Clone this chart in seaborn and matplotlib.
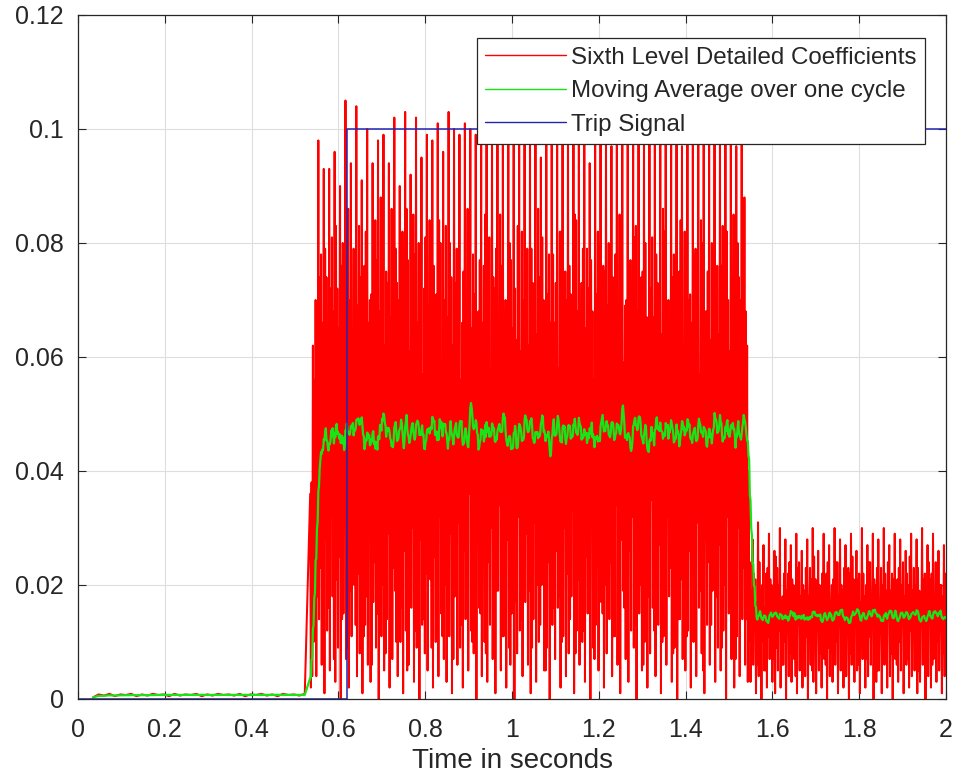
import numpy as np
import pandas as pd
import matplotlib
matplotlib.use("Agg")
import matplotlib.pyplot as plt
from matplotlib.ticker import FuncFormatter
import seaborn as sns

sns.set_theme(style="whitegrid")
plt.rcParams['font.family'] = ['Liberation Sans', 'DejaVu Sans']

### TIMES (seconds)
signal_start = 0.035
fault_start = 0.535
fault_clear = 1.548
t_end = 2.0
trip_time = 0.62
trip_level = 0.1

### SIXTH LEVEL DETAIL COEFFICIENTS
# ripple before the fault, units of 1e-4
prefault_vals = [3, 8, 6, 9, 5, 8, 7, 9, 5, 8, 6, 9, 7, 8, 5, 9, 6, 8, 7, 9,
                 5, 8, 6, 9, 7, 8, 6, 9, 5, 8, 7, 9, 6, 8, 5, 9, 7, 8, 6, 9]

# during the fault, units of 1e-3
# each cycle: spike top, dip, smaller hump, second dip
fault_peaks = [36, 62, 70, 98, 78, 93, 74, 93, 81, 96,
               72, 90, 80, 105, 86, 94, 79, 104, 83, 91,
               76, 100, 70, 94, 84, 98, 88, 99, 75, 94,
               86, 102, 73, 90, 82, 103, 77, 92, 85, 102,
               80, 95, 72, 99, 84, 98, 69, 101, 80, 96,
               83, 103, 74, 100, 79, 99, 66, 101, 86, 100,
               78, 99, 68, 100, 76, 99, 81, 100, 72, 99,
               85, 100, 70, 98, 77, 100, 63, 99, 82, 100,
               79, 99, 73, 100, 86, 95, 70, 99, 78, 100,
               66, 100, 82, 98, 75, 100, 71, 99, 84, 100,
               73, 99, 79, 94, 68, 100, 82, 99, 76, 100,
               80, 97, 72, 100, 85, 99, 69, 98, 77, 100,
               83, 99, 74, 100, 67, 98, 81, 100, 73, 99,
               86, 100, 70, 99, 78, 100, 75, 97, 82, 99,
               71, 100, 79, 98, 84, 100, 68, 99, 80, 98,
               76, 100, 83, 99, 70, 100, 85, 97, 74, 99,
               88, 62]
fault_dips = [2, 10, 4, 14, 6, 1, 12, 5, 18, 3,
              9, 0, 15, 7, 2, 11, 20, 4, 8, 1,
              13, 6, 3, 17, 9, 0, 11, 5, 14, 2,
              7, 19, 4, 10, 1, 12, 6, 16, 3, 9,
              0, 13, 8, 5, 21, 2, 10, 4, 15, 7,
              3, 11, 1, 18, 6, 9, 2, 14, 5, 12,
              8, 0, 16, 4, 10, 3, 13, 7, 1, 19,
              5, 11, 2, 9, 15, 0, 8, 12, 4, 17,
              6, 1, 14, 3, 10, 20, 5, 9, 0, 13,
              7, 16, 2, 11, 4, 8, 18, 1, 12, 6,
              10, 3, 15, 0, 9, 13, 5, 17, 2, 8,
              14, 4, 11, 6, 1, 19, 7, 3, 12, 9,
              0, 15, 5, 10, 2, 8, 16, 4, 13, 1,
              11, 6, 18, 3, 9, 0, 14, 7, 5, 12,
              2, 10, 4, 16, 8, 1, 13, 6, 19, 3,
              9, 5, 12, 0, 15, 7, 2, 11, 4, 14,
              6, 3]
fault_mids = [38, 56, 63, 74, 66, 79, 60, 72, 68, 83,
              65, 76, 57, 81, 70, 63, 78, 69, 74, 60,
              82, 66, 71, 55, 77, 68, 80, 62, 73, 67,
              58, 79, 70, 75, 64, 86, 61, 72, 78, 66,
              74, 57, 81, 69, 63, 76, 71, 84, 59, 70,
              67, 80, 62, 73, 78, 56, 75, 68, 82, 65,
              71, 60, 77, 66, 85, 69, 58, 74, 79, 63,
              76, 68, 55, 80, 65, 72, 83, 61, 70, 77,
              62, 79, 69, 64, 74, 81, 57, 71, 66, 78,
              73, 58, 82, 67, 70, 76, 63, 85, 68, 60,
              79, 65, 72, 77, 56, 71, 80, 64, 75, 69,
              61, 74, 78, 66, 83, 59, 70, 76, 65, 81,
              68, 63, 75, 80, 58, 72, 67, 78, 71, 64,
              82, 69, 60, 74, 77, 65, 84, 62, 73, 70,
              66, 78, 71, 57, 80, 68, 75, 63, 79, 72,
              64, 76, 69, 82, 61, 74, 67, 80, 70, 77,
              68, 40]
fault_dips2 = [4, 12, 18, 23, 10, 28, 16, 32, 7, 21,
               25, 14, 30, 9, 19, 34, 13, 22, 27, 11,
               18, 31, 6, 24, 15, 36, 20, 8, 29, 17,
               23, 10, 33, 16, 26, 5, 21, 30, 12, 19,
               28, 14, 22, 35, 9, 25, 17, 32, 11, 20,
               16, 29, 7, 23, 31, 13, 26, 18, 36, 10,
               21, 33, 15, 27, 8, 24, 30, 12, 19, 34,
               11, 22, 28, 6, 25, 17, 32, 14, 23, 29,
               19, 9, 31, 20, 13, 27, 5, 24, 35, 16,
               26, 18, 10, 30, 22, 14, 33, 8, 21, 28,
               12, 25, 17, 36, 7, 23, 29, 15, 20, 31,
               24, 11, 34, 19, 28, 16, 9, 26, 32, 13,
               30, 20, 6, 25, 18, 35, 12, 22, 27, 10,
               17, 32, 23, 8, 29, 14, 21, 34, 11, 26,
               22, 15, 31, 19, 5, 28, 24, 13, 33, 18,
               27, 9, 20, 32, 16, 25, 7, 30, 19, 23,
               14, 10]

# after the fault is cleared, units of 1e-3
post_peaks = [24, 28, 21, 31, 19, 27, 22, 29, 20, 26,
              23, 30, 18, 28, 22, 27, 20, 29, 24, 26,
              19, 28, 23, 30, 21, 26, 18, 29, 22, 27,
              20, 30, 24, 28, 19, 27, 23, 29, 21, 26,
              22, 30, 18, 27, 24, 29, 20, 28, 23, 30,
              19, 27, 22, 29, 21, 28, 24, 26, 20, 29,
              23, 28, 19, 30, 22, 27, 21, 29, 24, 26,
              20, 27]
post_dips = [3, 6, 1, 4, 0, 5, 2, 7, 3, 1,
             5, 2, 6, 0, 4, 3, 7, 1, 5, 2,
             4, 0, 6, 3, 1, 5, 2, 7, 0, 4,
             3, 6, 1, 5, 2, 4, 0, 6, 3, 5,
             1, 7, 2, 4, 6, 0, 3, 5, 1, 6,
             2, 4, 0, 7, 3, 5, 1, 6, 2, 4,
             5, 1, 3, 6, 0, 4, 2, 7, 3, 5,
             1, 4]
post_mids = [19, 22, 17, 24, 20, 16, 23, 21, 18, 25,
             20, 17, 22, 19, 24, 21, 16, 23, 18, 20,
             23, 18, 21, 25, 17, 20, 22, 19, 24, 16,
             21, 24, 18, 20, 23, 17, 22, 25, 19, 21,
             17, 22, 20, 24, 18, 21, 23, 16, 20, 22,
             24, 19, 21, 17, 23, 20, 18, 22, 25, 19,
             20, 23, 16, 21, 19, 24, 22, 18, 21, 20,
             18, 22]
post_dips2 = [8, 12, 6, 13, 10, 5, 11, 14, 7, 9,
              12, 6, 10, 15, 8, 11, 4, 13, 9, 7,
              11, 14, 5, 10, 12, 8, 13, 6, 9, 15,
              7, 10, 13, 9, 4, 12, 8, 11, 14, 6,
              10, 13, 7, 11, 15, 9, 5, 12, 8, 10,
              14, 8, 11, 6, 10, 13, 9, 7, 12, 11,
              9, 5, 13, 10, 8, 14, 6, 11, 10, 12,
              8, 7]

### TRIP SIGNAL
trip_t = [0, trip_time, trip_time, t_end]
trip_v = [0, 0, trip_level, trip_level]


### BUILD THE SERIES
pre_t = np.linspace(signal_start, fault_start, len(prefault_vals), endpoint = False)
pre_v = np.array(prefault_vals) * 1e-4

fault_v = np.column_stack([fault_peaks, fault_dips, fault_mids, fault_dips2]).ravel() * 1e-3
fault_t = np.linspace(fault_start, fault_clear, len(fault_v), endpoint = False)

post_v = np.column_stack([post_peaks, post_dips, post_mids, post_dips2]).ravel() * 1e-3
post_t = np.linspace(fault_clear, t_end, len(post_v))

coef = pd.DataFrame({'time': np.concatenate([pre_t, fault_t, post_t]),
                     'coef': np.concatenate([pre_v, fault_v, post_v])})

# moving average over one cycle (20 ms ~ 12 samples)
coef['moving_avg'] = coef['coef'].rolling(12, min_periods = 1).mean()

trip = pd.DataFrame({'time': trip_t, 'trip': trip_v})


### PLOT
fig = plt.figure(figsize = (9.56, 7.81), dpi = 100)
ax = fig.add_axes([78 / 956, 1 - 699 / 781, 868 / 956, 684 / 781])

sns.lineplot(data = coef, x = 'time', y = 'coef', ax = ax, color = '#ff0000', lw = 1.45,
             estimator = None, sort = False, label = 'Sixth Level Detailed Coefficients')
sns.lineplot(data = coef, x = 'time', y = 'moving_avg', ax = ax, color = '#18e418', lw = 1.6,
             estimator = None, sort = False, label = 'Moving Average over one cycle')
sns.lineplot(data = trip, x = 'time', y = 'trip', ax = ax, color = '#2424b0', lw = 1.1,
             estimator = None, sort = False, label = 'Trip Signal')

ax.set_xlim(0, 2)
ax.set_ylim(0, 0.12)
ax.set_xticks(np.arange(0, 2.01, 0.2))
ax.set_yticks(np.arange(0, 0.121, 0.02))
fmt = FuncFormatter(lambda v, p: '%g' % round(v, 3))
ax.xaxis.set_major_formatter(fmt)
ax.yaxis.set_major_formatter(fmt)

ax.tick_params(direction = 'in', length = 6, width = 0.8, top = True, right = True,
               bottom = True, left = True, labelsize = 18, pad = 10,
               color = '#262626', labelcolor = '#262626')
ax.tick_params(axis = 'x', pad = 13.5)
ax.grid(True, color = '#dedede', lw = 0.8)
for s in ax.spines.values():
    s.set_color('#262626')
    s.set_linewidth(0.9)

ax.set_xlabel('Time in seconds', fontsize = 20, color = '#262626', labelpad = 4.5)
ax.set_ylabel('')

leg = ax.legend(loc = 'upper right', bbox_to_anchor = (0.976, 0.966), fontsize = 17.4,
                frameon = True, fancybox = False, framealpha = 1, edgecolor = '#262626',
                handlelength = 3.35, handletextpad = 0.2, labelspacing = 0.48,
                borderpad = 0.35, borderaxespad = 0)
leg.get_frame().set_linewidth(0.9)
# thin handles in the legend box, as in the original
for h in leg.get_lines():
    h.set_linewidth(1.0)

fig.savefig('out.png', dpi = 100)
